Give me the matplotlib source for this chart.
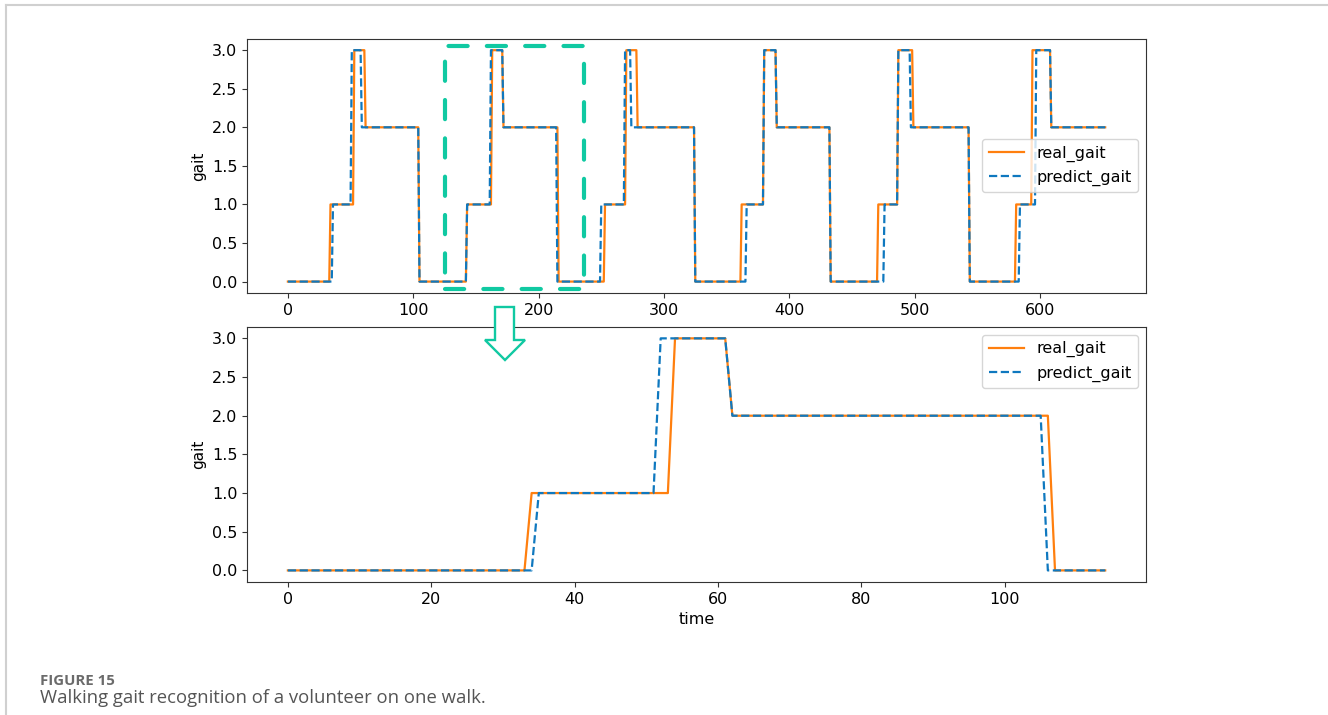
"""Walking gait recognition figure: real vs predicted gait, full walk and zoomed segment."""

import numpy as np
import matplotlib

matplotlib.use("Agg")
import matplotlib.pyplot as plt
from matplotlib.lines import Line2D
from matplotlib.patches import Polygon, Rectangle

# Gait level per run and run length (samples).
WALK_REAL_LEVELS = [0, 1, 3, 2, 0, 1, 3, 2, 0, 1, 3, 2, 0, 1, 3, 2, 0, 1, 3, 2, 0, 1, 3, 2]
WALK_REAL_RUNS = [34, 19, 9, 43, 38, 20, 9, 44, 37, 17, 9, 46, 37, 18, 10, 43, 38, 16, 12, 45, 37, 13, 15, 44]
WALK_PRED_LEVELS = [0, 1, 3, 2, 0, 1, 3, 2, 0, 1, 3, 2, 0, 1, 3, 2, 0, 1, 3, 2, 0, 1, 3, 2]
WALK_PRED_RUNS = [36, 15, 8, 46, 38, 19, 10, 43, 35, 19, 5, 51, 41, 14, 10, 43, 43, 11, 10, 47, 40, 13, 12, 44]

STEP_REAL_LEVELS = [0, 1, 3, 2, 0]
STEP_REAL_RUNS = [34, 20, 8, 45, 8]
STEP_PRED_LEVELS = [0, 1, 3, 2, 0]
STEP_PRED_RUNS = [35, 17, 10, 44, 9]

# Highlighted window on the full walk (time range, gait range).
BOX_TIME = (125.4, 236.6)
BOX_GAIT = (-0.095, 3.056)

Y_TICKS = [0.0, 0.5, 1.0, 1.5, 2.0, 2.5, 3.0]

ORANGE = "#ff7f0e"
BLUE = "#0f78bf"
GREEN = "#10c9a2"
W, H = 1328, 715


def series(levels, runs):
    return np.repeat(levels, runs).astype(float)


def draw_panel(ax, real, pred, legend_loc):
    ax.plot(np.arange(len(real)), real, color=ORANGE, lw=1.6, label="real_gait")
    ax.plot(np.arange(len(pred)), pred, color=BLUE, lw=1.6, ls="--", label="predict_gait")
    ax.set_yticks(Y_TICKS)
    ax.set_ylabel("gait", fontsize=11)
    ax.tick_params(labelsize=11.5, color="#333333")
    for spine in ax.spines.values():
        spine.set_color("#333333")
    ax.legend(loc=legend_loc, fontsize=11.5, handlelength=2.2)


def px(x, y):
    return (x / W, 1 - y / H)


fig = plt.figure(figsize=(W / 100, H / 100), dpi=100)
ax_top = fig.add_axes([0.186, 0.590, 0.677, 0.356])
ax_bot = fig.add_axes([0.186, 0.186, 0.677, 0.357])

draw_panel(ax_top, series(WALK_REAL_LEVELS, WALK_REAL_RUNS),
           series(WALK_PRED_LEVELS, WALK_PRED_RUNS), "center right")
draw_panel(ax_bot, series(STEP_REAL_LEVELS, STEP_REAL_RUNS),
           series(STEP_PRED_LEVELS, STEP_PRED_RUNS), "upper right")
ax_bot.set_xlabel("time", fontsize=11.5)

# dashed box marking the zoomed window
box = Rectangle((BOX_TIME[0], BOX_GAIT[0]), BOX_TIME[1] - BOX_TIME[0],
                BOX_GAIT[1] - BOX_GAIT[0], fill=False, edgecolor=GREEN,
                lw=3.0, ls=(0, (4.6, 4.6)), clip_on=False, zorder=5)
box.set_capstyle("round")
ax_top.add_patch(box)

# hollow arrow pointing down to the zoomed panel
arrow_pts = [px(495, 307), px(514, 307), px(514, 340), px(525, 340),
             px(505, 360), px(485, 340), px(495, 340)]
fig.add_artist(Polygon(arrow_pts, closed=True, facecolor="white",
                       edgecolor=GREEN, lw=1.7, transform=fig.transFigure, zorder=10))

# page frame lines
fig.add_artist(Line2D([6 / W, 1], [1 - 4.5 / H, 1 - 4.5 / H], color="#d0d0d0", lw=1.5))
fig.add_artist(Line2D([6 / W, 6 / W], [0, 1 - 4.5 / H], color="#d0d0d0", lw=1.5))

fig.text(40 / W, 1 - 685 / H, "FIGURE 15", fontsize=10.8, fontweight="bold",
         color="#6b6b6b", family="Open Sans", va="baseline")
fig.text(40 / W, 1 - 703 / H, "Walking gait recognition of a volunteer on one walk.",
         fontsize=13.3, color="#555555", family="Open Sans", va="baseline")

fig.savefig("out.png", dpi=100)
